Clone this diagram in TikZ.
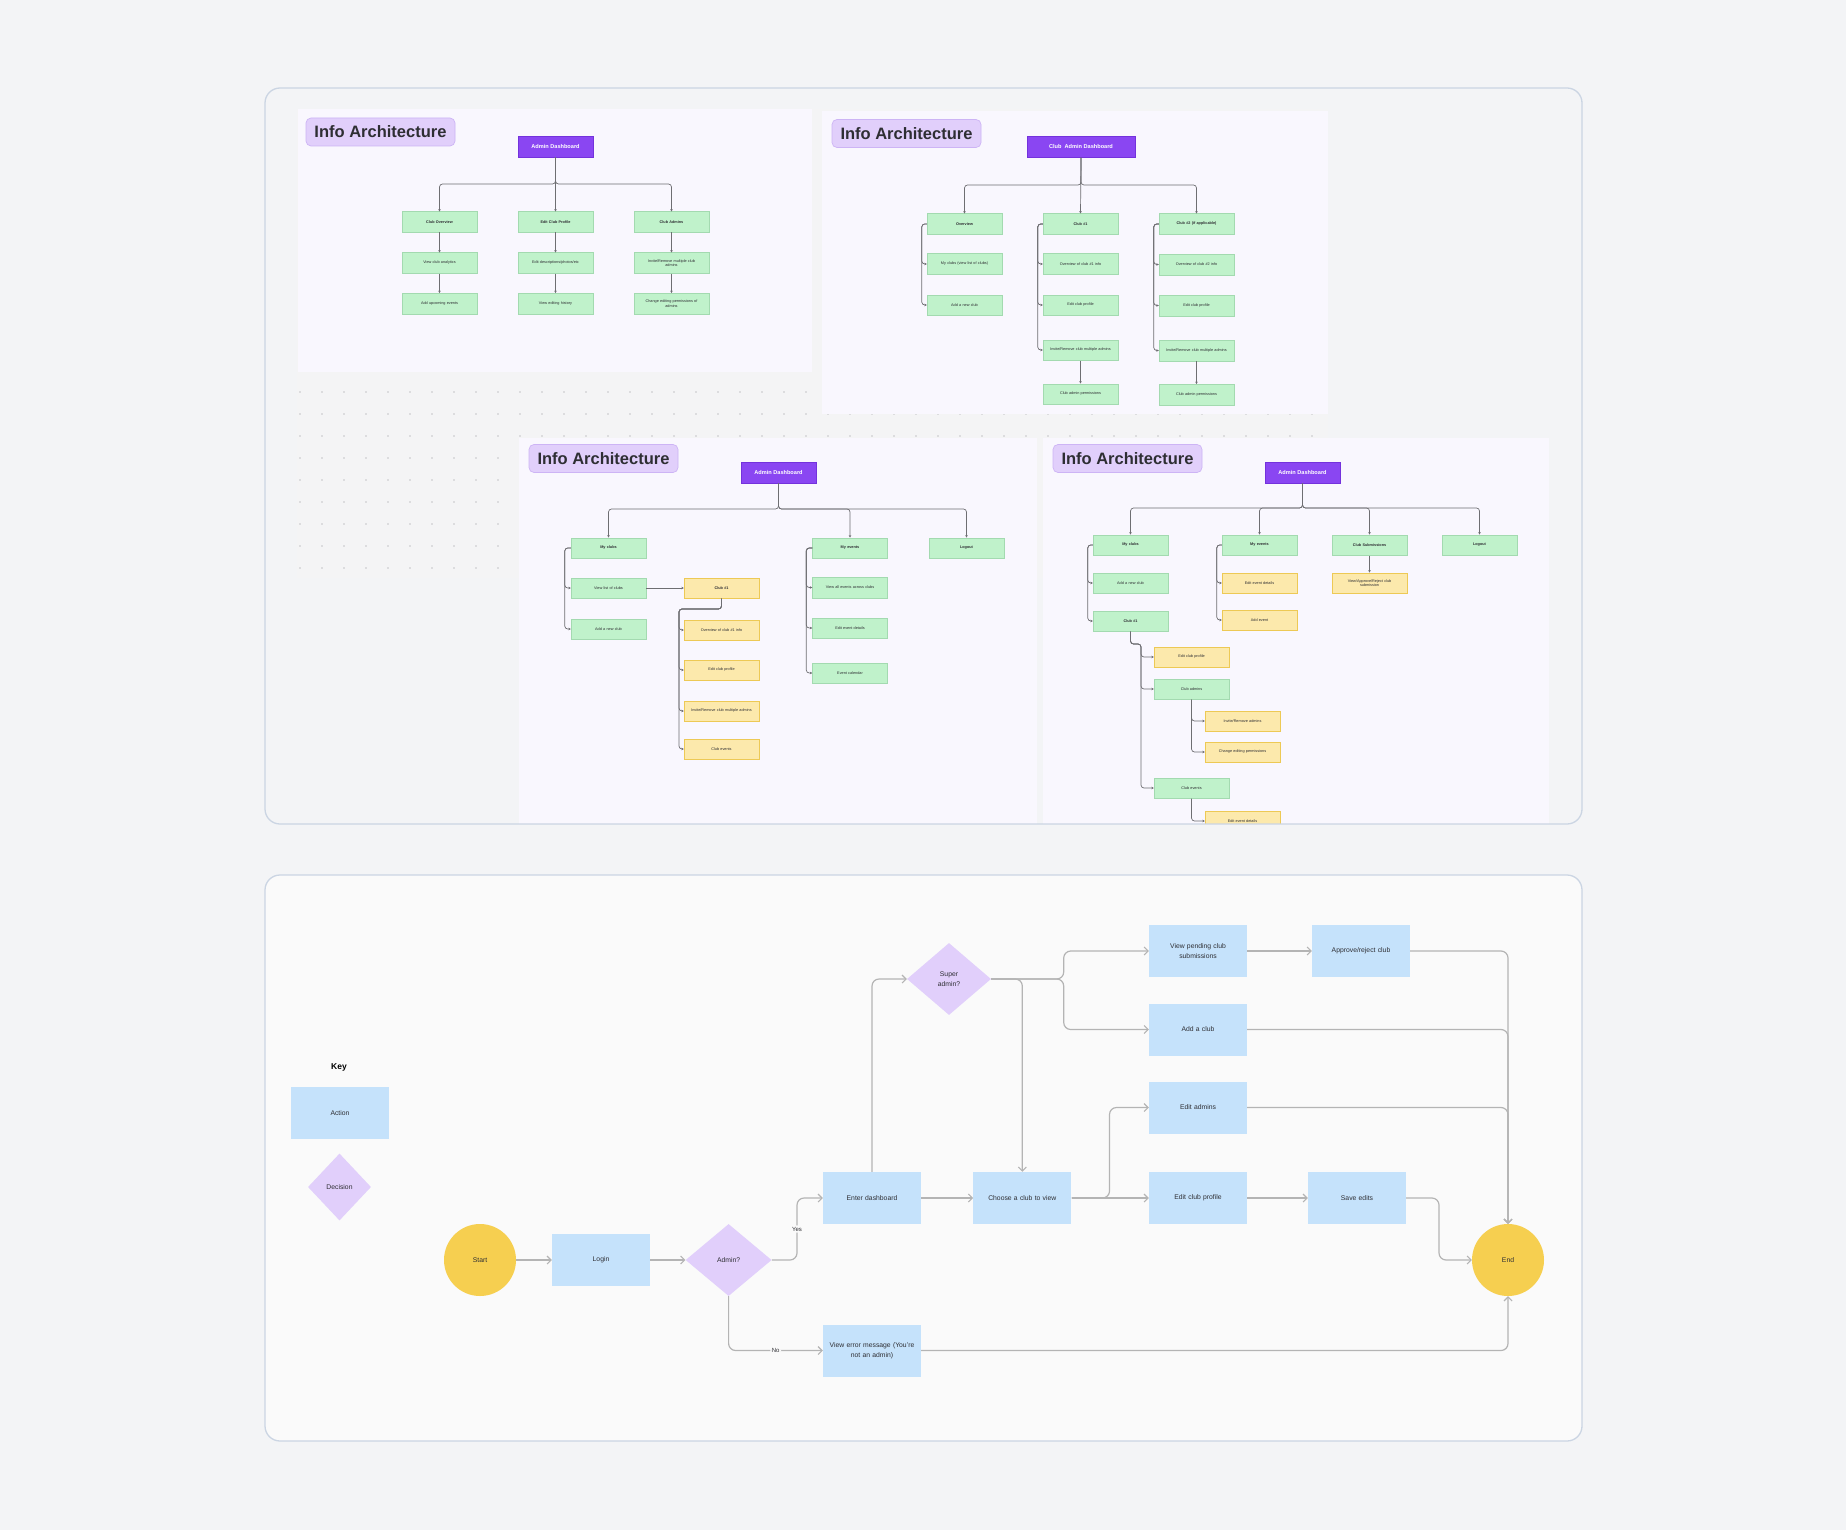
\documentclass[tikz,border=0pt]{standalone}
\usepackage{fontspec}
\setmainfont{Liberation Sans}
\usetikzlibrary{arrows.meta,shapes.geometric}
\definecolor{pagebg}{HTML}{F3F4F6}
\definecolor{panelline}{HTML}{CBD5E3}
\definecolor{flowbg}{HTML}{FAFAFA}
\definecolor{canvasbg}{HTML}{F4F4F5}
\definecolor{dotc}{HTML}{C4C4C8}
\definecolor{iabg}{HTML}{F9F7FE}
\definecolor{lavF}{HTML}{E1CFFB}
\definecolor{lavD}{HTML}{CDB4F5}
\definecolor{purp}{HTML}{8A46F2}
\definecolor{purpD}{HTML}{7432DC}
\definecolor{greenF}{HTML}{C0F2CB}
\definecolor{greenD}{HTML}{A3DAB0}
\definecolor{yelF}{HTML}{FCE9AC}
\definecolor{yelD}{HTML}{EDC955}
\definecolor{actF}{HTML}{C5E2FB}
\definecolor{termF}{HTML}{F6CF50}
\definecolor{ialine}{HTML}{6E6E72}
\definecolor{flline}{HTML}{B4B4B4}
\definecolor{txt}{HTML}{2E2E33}
\begin{document}
\begin{tikzpicture}[x=1pt,y=-1pt,
  iabase/.style={minimum width=75pt, minimum height=20.5pt, inner sep=0.5pt, align=center, text width=72pt,
    font=\fontsize{3.8}{4.6}\selectfont, text=txt, line width=0.5pt},
  gbox/.style={iabase, fill=greenF, draw=greenD},
  gbold/.style={gbox, font=\fontsize{3.8}{4.6}\selectfont\bfseries},
  ybox/.style={iabase, fill=yelF, draw=yelD},
  ybold/.style={ybox, font=\fontsize{3.8}{4.6}\selectfont\bfseries},
  hdr/.style={fill=purp, draw=purpD, line width=0.5pt, text=white, font=\fontsize{5.6}{6.6}\selectfont\bfseries,
    minimum width=75pt, minimum height=21pt, inner sep=1pt},
  ttl/.style={fill=lavF, draw=lavD, line width=0.7pt, rounded corners=5pt, text=txt,
    font=\fontsize{16.5}{19}\selectfont\bfseries, minimum width=149pt, minimum height=28pt, inner sep=1pt},
  ia/.style={draw=ialine, line width=0.7pt, rounded corners=3pt},
  iaar/.style={ia, -{Stealth[length=2.4pt,width=2.6pt]}},
  act/.style={fill=actF, minimum width=98pt, minimum height=52pt, inner sep=1pt, align=center,
    text width=90pt, font=\fontsize{6.8}{9.6}\selectfont, text=txt},
  dec/.style={diamond, fill=lavF, inner sep=0pt, align=center, font=\fontsize{6.8}{9.6}\selectfont, text=txt},
  term/.style={circle, fill=termF, minimum size=72pt, inner sep=0pt, font=\fontsize{6.8}{9.6}\selectfont, text=txt},
  fl/.style={draw=flline, line width=1.2pt, rounded corners=7pt, -{Straight Barb[length=4pt,width=8pt,line width=1.1pt]}},
  lbl/.style={fill=flowbg, inner sep=1.5pt, font=\fontsize{6}{7}\selectfont, text=txt}
]
\useasboundingbox (0,0) rectangle (1846,1530);
\fill[pagebg] (0,0) rectangle (1846,1530);

% ---------------- top outer panel ----------------
\fill[pagebg, rounded corners=15pt] (265,88) rectangle (1582,824);
\fill[canvasbg] (297,109) rectangle (1328,578);
\foreach \x in {300,322,...,1320}
  \foreach \y in {128,150,...,568}
    \fill[dotc] (\x,\y) circle (0.9);

\begin{scope}
\clip (266,89) rectangle (1581,823.3);
\fill[iabg] (298,109) rectangle (812,372);
\fill[iabg] (822,111) rectangle (1328,414);
\fill[iabg] (519,438) rectangle (1037,830);
\fill[iabg] (1043,438) rectangle (1549,830);

% ===== Top-left IA =====
\node[ttl] (TLt) at (380.5,132) {Info Architecture};
\node[hdr] (TLh) at (555.5,146.5) {Admin Dashboard};
\coordinate (TLbr) at (555.5,184);
\node[gbold] (TLa1) at (439.5,222) {Club Overview};
\node[gbox]  (TLa2) at (439.5,263) {View club analytics};
\node[gbox]  (TLa3) at (439.5,303.5) {Add upcoming events};
\node[gbold] (TLb1) at (555.5,222) {Edit Club Profile};
\node[gbox]  (TLb2) at (555.5,263) {Edit descriptions/photos/etc};
\node[gbox]  (TLb3) at (555.5,303.5) {View editing history};
\node[gbold] (TLc1) at (671.5,222) {Club Admins};
\node[gbox]  (TLc2) at (671.5,263) {Invite/Remove multiple club\\admins};
\node[gbox]  (TLc3) at (671.5,303.5) {Change editing permissions of\\admins};
\draw[iaar] (TLh.south) -- (TLb1.north);
\draw[iaar] (TLh.south) -- (TLh.south |- TLbr) -| (TLa1.north);
\draw[iaar] (TLh.south) -- (TLh.south |- TLbr) -| (TLc1.north);
\draw[iaar] (TLa1) -- (TLa2);
\draw[iaar] (TLa2) -- (TLa3);
\draw[iaar] (TLb1) -- (TLb2);
\draw[iaar] (TLb2) -- (TLb3);
\draw[iaar] (TLc1) -- (TLc2);
\draw[iaar] (TLc2) -- (TLc3);

% ===== Top-right IA =====
\node[ttl] (TRt) at (906.5,133.5) {Info Architecture};
\node[hdr, minimum width=108pt] (TRh) at (1081,147) {Club\ \ Admin Dashboard};
\coordinate (TRbr) at (1081,185);
\node[gbold] (TRa1) at (964.5,224) {Overview};
\node[gbox]  (TRa2) at (964.5,264) {My clubs (view list of clubs)};
\node[gbox]  (TRa3) at (964.5,305) {Add a new club};
\node[gbold] (TRb1) at (1080.5,224) {Club \#1};
\node[gbox]  (TRb2) at (1080.5,264) {Overview of club \#1 info};
\node[gbox]  (TRb3) at (1080.5,305) {Edit club profile};
\node[gbox]  (TRb4) at (1080.5,350) {Invite/Remove club multiple admins};
\node[gbox]  (TRb5) at (1080.5,394) {Club admin permissions};
\node[gbold] (TRc1) at (1196.5,224) {Club \#2 (if applicable)};
\node[gbox]  (TRc2) at (1196.5,264.5) {Overview of club \#2 info};
\node[gbox]  (TRc3) at (1196.5,305.5) {Edit club profile};
\node[gbox]  (TRc4) at (1196.5,350.5) {Invite/Remove club multiple admins};
\node[gbox]  (TRc5) at (1196.5,394.5) {Club admin permissions};
\draw[iaar] (TRh.south) -- (TRb1.north);
\draw[iaar] (TRh.south) -- (TRh.south |- TRbr) -| (TRa1.north);
\draw[iaar] (TRh.south) -- (TRh.south |- TRbr) -| (TRc1.north);
\foreach \p/\c in {TRa1/TRa2,TRa1/TRa3,TRb1/TRb2,TRb1/TRb3,TRb1/TRb4,TRc1/TRc2,TRc1/TRc3,TRc1/TRc4}
  \draw[iaar] (\p.west) -- ([xshift=-5pt]\p.west) |- (\c.west);
\draw[iaar] (TRb4) -- (TRb5);
\draw[iaar] (TRc4) -- (TRc5);

% ===== Bottom-left IA =====
\node[ttl] (BLt) at (603.5,458.5) {Info Architecture};
\node[hdr] (BLh) at (778.5,472.5) {Admin Dashboard};
\coordinate (BLbr) at (778.5,509);
\node[gbold] (BLa1) at (608.5,548) {My clubs};
\node[gbox]  (BLa2) at (608.5,588) {View list of clubs};
\node[gbox]  (BLa3) at (608.5,629) {Add a new club};
\node[ybold] (BLy0) at (721.5,588) {Club \#1};
\node[ybox]  (BLy1) at (721.5,630) {Overview of club \#1 info};
\node[ybox]  (BLy2) at (721.5,670) {Edit club profile};
\node[ybox]  (BLy3) at (721.5,711) {Invite/Remove club multiple admins};
\node[ybox]  (BLy4) at (721.5,749) {Club events};
\node[gbold] (BLb1) at (850,548) {My events};
\node[gbox]  (BLb2) at (850,587.5) {View all events across clubs};
\node[gbox]  (BLb3) at (850,628) {Edit event details};
\node[gbox]  (BLb4) at (850,673) {Event calendar};
\node[gbold] (BLc1) at (966.5,548) {Logout};
\draw[iaar] (BLh.south) -- (BLh.south |- BLbr) -| (BLa1.north);
\draw[iaar] (BLh.south) -- (BLh.south |- BLbr) -| (BLb1.north);
\draw[iaar] (BLh.south) -- (BLh.south |- BLbr) -| (BLc1.north);
\foreach \p/\c in {BLa1/BLa2,BLa1/BLa3,BLb1/BLb2,BLb1/BLb3,BLb1/BLb4}
  \draw[iaar] (\p.west) -- ([xshift=-6pt]\p.west) |- (\c.west);
\draw[iaar] (BLa2) -- (BLy0);
\foreach \c in {BLy1,BLy2,BLy3,BLy4}
  \draw[iaar] (BLy0.south) -- (721.5,609) -- (679,609) |- (\c.west);

% ===== Bottom-right IA =====
\node[ttl] (BRt) at (1127.5,458.5) {Info Architecture};
\node[hdr] (BRh) at (1302.5,472.5) {Admin Dashboard};
\coordinate (BRbr) at (1302.5,508);
\node[gbold] (BRa1) at (1130.5,545) {My clubs};
\node[gbox]  (BRa2) at (1130.5,583) {Add a new club};
\node[gbold] (BRa3) at (1130.5,621) {Club \#1};
\node[gbold] (BRb1) at (1259.5,545) {My events};
\node[ybox]  (BRb2) at (1259.5,583) {Edit event details};
\node[ybox]  (BRb3) at (1259.5,620) {Add event};
\node[gbold] (BRc1) at (1369.5,545) {Club Submissions};
\node[ybox]  (BRc2) at (1369.5,583) {View/Approve/Reject club\\submission};
\node[gbold] (BRd1) at (1479.5,545) {Logout};
\node[ybox]  (BRe1) at (1191.5,657) {Edit club profile};
\node[gbox]  (BRe2) at (1191.5,689) {Club admins};
\node[gbox]  (BRe3) at (1191.5,788) {Club events};
\node[ybox]  (BRf1) at (1242.5,721) {Invite/Remove admins};
\node[ybox]  (BRf2) at (1242.5,752) {Change editing permissions};
\node[ybox]  (BRg1) at (1242.5,821) {Edit event details};
\foreach \c in {BRa1,BRb1,BRc1,BRd1}
  \draw[iaar] (BRh.south) -- (BRh.south |- BRbr) -| (\c.north);
\foreach \p/\c in {BRa1/BRa2,BRa1/BRa3,BRb1/BRb2,BRb1/BRb3}
  \draw[iaar] (\p.west) -- ([xshift=-5pt]\p.west) |- (\c.west);
\draw[iaar] (BRc1) -- (BRc2);
\foreach \c in {BRe1,BRe2,BRe3}
  \draw[iaar] (BRa3.south) -- (1130.5,644) -- (1141,644) |- (\c.west);
\foreach \c in {BRf1,BRf2}
  \draw[iaar] (BRe2.south) |- (\c.west);
\draw[iaar] (BRe3.south) |- (BRg1.west);
\end{scope}
\draw[panelline, line width=1.3pt, rounded corners=15pt] (265,88) rectangle (1582,824);

% ---------------- bottom outer panel: flowchart ----------------
\filldraw[fill=flowbg, draw=panelline, line width=1.3pt, rounded corners=15pt] (265,875) rectangle (1582,1441);

\node[font=\fontsize{8.5}{10}\selectfont\bfseries, text=black] (key) at (339,1067) {Key};
\node[act] (keyA) at (340,1113) {Action};
\node[dec, minimum width=63pt, minimum height=67pt] (keyD) at (339.5,1187) {Decision};

\node[term] (start) at (480,1260) {Start};
\node[act] (login) at (601,1260) {Login};
\node[dec, minimum width=86pt, minimum height=72pt] (admin) at (728.6,1260) {Admin?};
\node[act] (enter) at (872,1198) {Enter dashboard};
\node[act] (err) at (872,1350.5) {View error message (You're\\not an admin)};
\node[dec, minimum width=84pt, minimum height=72pt] (sup) at (949,979) {Super\\admin?};
\node[act] (choose) at (1022.3,1198) {Choose a club to view};
\node[act] (pend) at (1198,951) {View pending club\\submissions};
\node[act] (appr) at (1361,951) {Approve/reject club};
\node[act] (addc) at (1198,1029.5) {Add a club};
\node[act] (edad) at (1198,1107.5) {Edit admins};
\node[act] (edcp) at (1198,1198) {Edit club profile};
\node[act] (save) at (1357,1198) {Save edits};
\node[term] (endn) at (1508,1260) {End};

\draw[fl] (start) -- (login);
\draw[fl] (login) -- (admin);
\draw[fl] (admin.east) -- (797,1260) |- node[pos=0.25, lbl] {Yes} (enter.west);
\draw[fl] (admin.south) |- node[pos=0.75, lbl] {No} (err.west);
\draw[fl] (enter.north) |- (sup.west);
\draw[fl] (sup.east) -| (choose.north);
\draw[fl] (sup.east) -- (1063.7,979) |- (pend.west);
\draw[fl] (sup.east) -- (1063.7,979) |- (addc.west);
\draw[fl] (enter) -- (choose);
\draw[fl] (choose) -- (edcp);
\draw[fl] (choose.east) -- (1109.5,1198) |- (edad.west);
\draw[fl] (edcp) -- (save);
\draw[fl] (pend) -- (appr);
\draw[fl] (appr.east) -| (endn.north);
\draw[fl] (addc.east) -| (endn.north);
\draw[fl] (edad.east) -| (endn.north);
\draw[fl] (save.east) -- (1439,1198) |- (endn.west);
\draw[fl] (err.east) -| (endn.south);
\end{tikzpicture}
\end{document}
